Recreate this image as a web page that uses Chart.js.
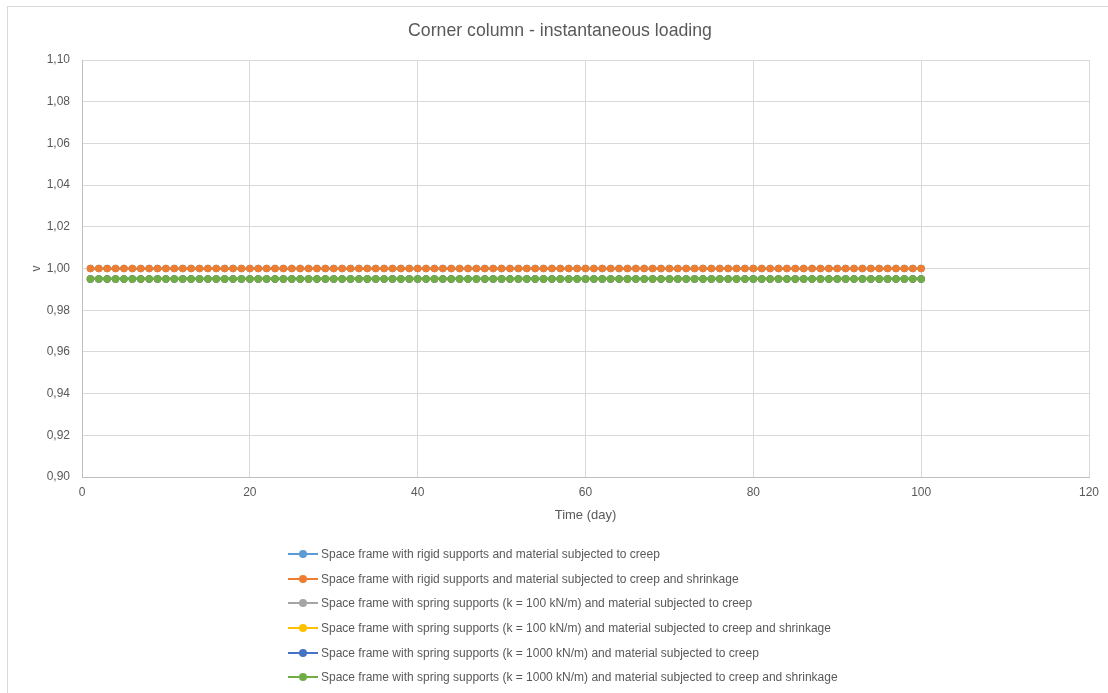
<!DOCTYPE html>
<html>
<head>
<meta charset="utf-8">
<script src="https://cdn.jsdelivr.net/npm/chart.js@4.4.1/dist/chart.umd.min.js"></script>
<style>
  html, body { margin: 0; padding: 0; background: #fff; overflow: hidden; }
  #wrap { position: relative; width: 1108px; height: 693px; }
  #frame { position: absolute; left: 7px; top: 6px; width: 1120px; height: 710px; border: 1px solid #d9d9d9; box-sizing: border-box; }
  canvas { position: absolute; left: 0; top: 0; }
  #legend { position: absolute; left: 288px; top: 542px; font-family: 'Liberation Sans', Arial, sans-serif; font-size: 12px; color: #595959; }
  .row { height: 24.6px; display: flex; align-items: center; white-space: nowrap; }
  .mk { position: relative; width: 30px; height: 10px; margin-right: 3px; }
  .mk .ln { position: absolute; left: 0; right: 0; top: 4px; height: 2px; }
  .mk .dt { position: absolute; left: 11px; top: 1px; width: 8px; height: 8px; border-radius: 50%; }
</style>
</head>
<body>
<div id="wrap">
  <div id="frame"></div>
  <canvas id="c" width="1108" height="693"></canvas>
  <div id="legend"></div>
</div>
<script>
const chartTitle = 'Corner column - instantaneous loading';
const xAxisTitle = 'Time (day)';
const yAxisTitle = 'v';

const days = [1,2,3,4,5,6,7,8,9,10,11,12,13,14,15,16,17,18,19,20,21,22,23,24,25,26,27,28,29,30,31,32,33,34,35,36,37,38,39,40,41,42,43,44,45,46,47,48,49,50,51,52,53,54,55,56,57,58,59,60,61,62,63,64,65,66,67,68,69,70,71,72,73,74,75,76,77,78,79,80,81,82,83,84,85,86,87,88,89,90,91,92,93,94,95,96,97,98,99,100];

const seriesNames = [
  'Space frame with rigid supports and material subjected to creep',
  'Space frame with rigid supports and material subjected to creep and shrinkage',
  'Space frame with spring supports (k = 100 kN/m) and material subjected to creep',
  'Space frame with spring supports (k = 100 kN/m) and material subjected to creep and shrinkage',
  'Space frame with spring supports (k = 1000 kN/m) and material subjected to creep',
  'Space frame with spring supports (k = 1000 kN/m) and material subjected to creep and shrinkage'
];
const seriesColors = ['#5B9BD5', '#ED7D31', '#A5A5A5', '#FFC000', '#4472C4', '#70AD47'];

const rigidCreep = [1,1,1,1,1,1,1,1,1,1,1,1,1,1,1,1,1,1,1,1,1,1,1,1,1,1,1,1,1,1,1,1,1,1,1,1,1,1,1,1,1,1,1,1,1,1,1,1,1,1,1,1,1,1,1,1,1,1,1,1,1,1,1,1,1,1,1,1,1,1,1,1,1,1,1,1,1,1,1,1,1,1,1,1,1,1,1,1,1,1,1,1,1,1,1,1,1,1,1,1];
const rigidCreepShrink = [1,1,1,1,1,1,1,1,1,1,1,1,1,1,1,1,1,1,1,1,1,1,1,1,1,1,1,1,1,1,1,1,1,1,1,1,1,1,1,1,1,1,1,1,1,1,1,1,1,1,1,1,1,1,1,1,1,1,1,1,1,1,1,1,1,1,1,1,1,1,1,1,1,1,1,1,1,1,1,1,1,1,1,1,1,1,1,1,1,1,1,1,1,1,1,1,1,1,1,1];
const spring100Creep = [0.995,0.995,0.995,0.995,0.995,0.995,0.995,0.995,0.995,0.995,0.995,0.995,0.995,0.995,0.995,0.995,0.995,0.995,0.995,0.995,0.995,0.995,0.995,0.995,0.995,0.995,0.995,0.995,0.995,0.995,0.995,0.995,0.995,0.995,0.995,0.995,0.995,0.995,0.995,0.995,0.995,0.995,0.995,0.995,0.995,0.995,0.995,0.995,0.995,0.995,0.995,0.995,0.995,0.995,0.995,0.995,0.995,0.995,0.995,0.995,0.995,0.995,0.995,0.995,0.995,0.995,0.995,0.995,0.995,0.995,0.995,0.995,0.995,0.995,0.995,0.995,0.995,0.995,0.995,0.995,0.995,0.995,0.995,0.995,0.995,0.995,0.995,0.995,0.995,0.995,0.995,0.995,0.995,0.995,0.995,0.995,0.995,0.995,0.995,0.995];
const spring100CreepShrink = [0.995,0.995,0.995,0.995,0.995,0.995,0.995,0.995,0.995,0.995,0.995,0.995,0.995,0.995,0.995,0.995,0.995,0.995,0.995,0.995,0.995,0.995,0.995,0.995,0.995,0.995,0.995,0.995,0.995,0.995,0.995,0.995,0.995,0.995,0.995,0.995,0.995,0.995,0.995,0.995,0.995,0.995,0.995,0.995,0.995,0.995,0.995,0.995,0.995,0.995,0.995,0.995,0.995,0.995,0.995,0.995,0.995,0.995,0.995,0.995,0.995,0.995,0.995,0.995,0.995,0.995,0.995,0.995,0.995,0.995,0.995,0.995,0.995,0.995,0.995,0.995,0.995,0.995,0.995,0.995,0.995,0.995,0.995,0.995,0.995,0.995,0.995,0.995,0.995,0.995,0.995,0.995,0.995,0.995,0.995,0.995,0.995,0.995,0.995,0.995];
const spring1000Creep = [0.995,0.995,0.995,0.995,0.995,0.995,0.995,0.995,0.995,0.995,0.995,0.995,0.995,0.995,0.995,0.995,0.995,0.995,0.995,0.995,0.995,0.995,0.995,0.995,0.995,0.995,0.995,0.995,0.995,0.995,0.995,0.995,0.995,0.995,0.995,0.995,0.995,0.995,0.995,0.995,0.995,0.995,0.995,0.995,0.995,0.995,0.995,0.995,0.995,0.995,0.995,0.995,0.995,0.995,0.995,0.995,0.995,0.995,0.995,0.995,0.995,0.995,0.995,0.995,0.995,0.995,0.995,0.995,0.995,0.995,0.995,0.995,0.995,0.995,0.995,0.995,0.995,0.995,0.995,0.995,0.995,0.995,0.995,0.995,0.995,0.995,0.995,0.995,0.995,0.995,0.995,0.995,0.995,0.995,0.995,0.995,0.995,0.995,0.995,0.995];
const spring1000CreepShrink = [0.995,0.995,0.995,0.995,0.995,0.995,0.995,0.995,0.995,0.995,0.995,0.995,0.995,0.995,0.995,0.995,0.995,0.995,0.995,0.995,0.995,0.995,0.995,0.995,0.995,0.995,0.995,0.995,0.995,0.995,0.995,0.995,0.995,0.995,0.995,0.995,0.995,0.995,0.995,0.995,0.995,0.995,0.995,0.995,0.995,0.995,0.995,0.995,0.995,0.995,0.995,0.995,0.995,0.995,0.995,0.995,0.995,0.995,0.995,0.995,0.995,0.995,0.995,0.995,0.995,0.995,0.995,0.995,0.995,0.995,0.995,0.995,0.995,0.995,0.995,0.995,0.995,0.995,0.995,0.995,0.995,0.995,0.995,0.995,0.995,0.995,0.995,0.995,0.995,0.995,0.995,0.995,0.995,0.995,0.995,0.995,0.995,0.995,0.995,0.995];

const seriesValues = [rigidCreep, rigidCreepShrink, spring100Creep, spring100CreepShrink, spring1000Creep, spring1000CreepShrink];

const xTicks = [0, 20, 40, 60, 80, 100, 120];
const yTicks = [0.90, 0.92, 0.94, 0.96, 0.98, 1.00, 1.02, 1.04, 1.06, 1.08, 1.10];

const FONT = "'Liberation Sans', Arial, sans-serif";
const TXT = '#595959';

const datasets = seriesNames.map((name, i) => ({
  label: name,
  data: days.map((d, j) => ({ x: d, y: seriesValues[i][j] })),
  borderColor: seriesColors[i],
  backgroundColor: seriesColors[i],
  borderWidth: 2.25,
  pointRadius: 3.7,
  pointBorderWidth: 0,
  pointHoverRadius: 3.7,
  order: seriesNames.length - 1 - i,
  tension: 0
}));

new Chart(document.getElementById('c'), {
  type: 'line',
  data: { datasets },
  options: {
    responsive: false,
    animation: false,
    devicePixelRatio: 1,
    layout: { padding: { left: 31, right: 19, top: 0, bottom: 166 } },
    plugins: {
      legend: { display: false },
      tooltip: { enabled: false },
      title: {
        display: true,
        text: chartTitle,
        color: TXT,
        font: { family: FONT, size: 17.7, weight: 'normal', lineHeight: 1.2 },
        padding: { top: 20.5, bottom: 18.3 }
      }
    },
    scales: {
      x: {
        type: 'linear',
        min: xTicks[0],
        max: xTicks[xTicks.length - 1],
        afterBuildTicks: s => { s.ticks = xTicks.map(v => ({ value: v })); },
        afterFit: s => { s.height = 50; },
        ticks: { color: TXT, font: { family: FONT, size: 12 }, padding: 8, maxRotation: 0, autoSkip: false },
        grid: { color: '#d9d9d9', drawTicks: false },
        border: { color: '#bfbfbf' },
        title: { display: true, text: xAxisTitle, color: TXT, font: { family: FONT, size: 13 }, padding: { top: 0, bottom: 4 } }
      },
      y: {
        type: 'linear',
        min: yTicks[0],
        max: yTicks[yTicks.length - 1],
        afterBuildTicks: s => { s.ticks = yTicks.map(v => ({ value: v })); },
        afterFit: s => { s.width = 51; },
        ticks: { color: TXT, font: { family: FONT, size: 12 }, padding: 12, autoSkip: false,
                 callback: v => Number(v).toFixed(2).replace('.', ',') },
        grid: { color: '#d9d9d9', drawTicks: false },
        border: { color: '#bfbfbf' },
        title: { display: true, text: yAxisTitle, color: TXT, font: { family: FONT, size: 12, lineHeight: 1 }, padding: { top: 0, bottom: 0 } }
      }
    }
  }
});

const legend = document.getElementById('legend');
seriesNames.forEach((name, i) => {
  const row = document.createElement('div');
  row.className = 'row';
  const mk = document.createElement('div');
  mk.className = 'mk';
  const ln = document.createElement('div'); ln.className = 'ln'; ln.style.background = seriesColors[i];
  const dt = document.createElement('div'); dt.className = 'dt'; dt.style.background = seriesColors[i];
  mk.appendChild(ln); mk.appendChild(dt);
  const tx = document.createElement('span'); tx.textContent = name;
  row.appendChild(mk); row.appendChild(tx);
  legend.appendChild(row);
});
</script>
</body>
</html>
